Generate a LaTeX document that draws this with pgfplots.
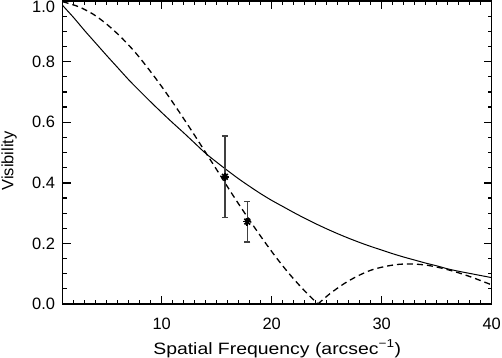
\documentclass[border=0pt]{standalone}
\usepackage{fontspec}
\setmainfont{Liberation Sans}
\newfontfamily\widesans[FakeStretch=1.18]{Liberation Sans}
\usepackage{pgfplots}
\pgfplotsset{compat=1.18}
\begin{document}
\begin{tikzpicture}
\begin{axis}[
    name=ax,
    scale only axis,
    width=429bp, height=303bp,
    xmin=1, xmax=40, ymin=0, ymax=1,
    xtick={10,20,30,40},
    minor xtick={1,2,...,40},
    ytick={0,0.2,0.4,0.6,0.8},
    extra y ticks={1},
    extra y tick style={yticklabel style={anchor=north east}},
    minor ytick={0,0.05,...,1.01},
    major tick length=8bp, minor tick length=4bp,
    every major tick/.append style={black, line width=1.4bp},
    every minor tick/.append style={black, line width=1.2bp},
    axis line style={line width=1.2bp},
    /pgf/number format/assume math mode=true,
    tick label style={font=\fontsize{16.5}{19}\selectfont, inner sep=0pt},
    xticklabel style={yshift=-14bp},
    yticklabel style={xshift=-7.5bp, /pgf/number format/fixed,
        /pgf/number format/precision=1, /pgf/number format/fixed zerofill},
    label style={font=\fontsize{16.5}{19}\selectfont, inner sep=0pt},
    xlabel={\widesans Spatial Frequency (arcsec\textsuperscript{−1})},
    xlabel style={at={(rel axis cs:0.5,0)}, anchor=base, yshift=-50bp},
    ylabel={Visibility},
    ylabel style={at={([xshift=-45.7bp]rel axis cs:0,0.4726)}, rotate=0, anchor=south},
]
% model 1: smooth decay
\addplot[black, line width=1bp, smooth] coordinates {
    (1,0.985) (2,0.945) (3,0.902) (4,0.861) (5,0.820) (6,0.780)
    (7,0.740) (8,0.703) (9,0.667) (10,0.632) (11,0.598) (12,0.565)
    (13,0.531) (14,0.497) (15,0.468) (16,0.440) (17,0.413) (18,0.388)
    (19,0.364) (20,0.342) (21,0.322) (22,0.302) (23,0.283) (24,0.265)
    (25,0.248) (26,0.232) (27,0.217) (28,0.203) (29,0.190) (30,0.178)
    (31,0.166) (32,0.155) (33,0.145) (34,0.135) (35,0.126) (36,0.116)
    (37,0.108) (38,0.101) (39,0.094) (40,0.087)
};
% model 2: uniform disk, main lobe
\addplot[black, line width=1.3bp, dash pattern=on 6bp off 4bp, smooth] coordinates {
    (1.00,0.997) (1.26,0.995) (2.53,0.980) (3.79,0.956) (5.05,0.922)
    (6.32,0.880) (7.58,0.831) (8.84,0.774) (10.11,0.712) (11.37,0.646)
    (12.63,0.577) (13.89,0.506) (15.16,0.434) (16.42,0.362) (17.68,0.293)
    (18.95,0.226) (20.21,0.163) (21.47,0.105) (22.74,0.053) (24.20,0.000)
};
% model 2: second lobe
\addplot[black, line width=1.3bp, dash pattern=on 6bp off 4bp, smooth] coordinates {
    (24.20,0.000) (25.26,0.033) (26.53,0.066) (27.79,0.092) (29.05,0.112)
    (30.32,0.124) (31.58,0.131) (32.84,0.132) (34.11,0.128) (35.37,0.119)
    (36.63,0.107) (37.90,0.092) (39.16,0.075) (40.00,0.063)
};
% measurements
\addplot[black, only marks, mark=x, mark size=4bp, line width=1.8bp,
    error bars/.cd, y dir=both, y explicit,
    error bar style={black!75, line width=1.3bp},
    error mark options={rotate=90, mark size=3bp, line width=1.3bp, black!75}]
    coordinates {(15.75,0.420) +- (0,0.134) (17.78,0.272) +- (0,0.067)};
\addplot[black, only marks, mark=+, mark size=4bp, line width=1.8bp]
    coordinates {(15.75,0.420) (17.78,0.272)};
\end{axis}
\pgfresetboundingbox
\path[use as bounding box] ([xshift=-62.7bp,yshift=-53bp]ax.south west)
    rectangle ([xshift=10.3bp,yshift=1bp]ax.north east);
\end{tikzpicture}
\end{document}
